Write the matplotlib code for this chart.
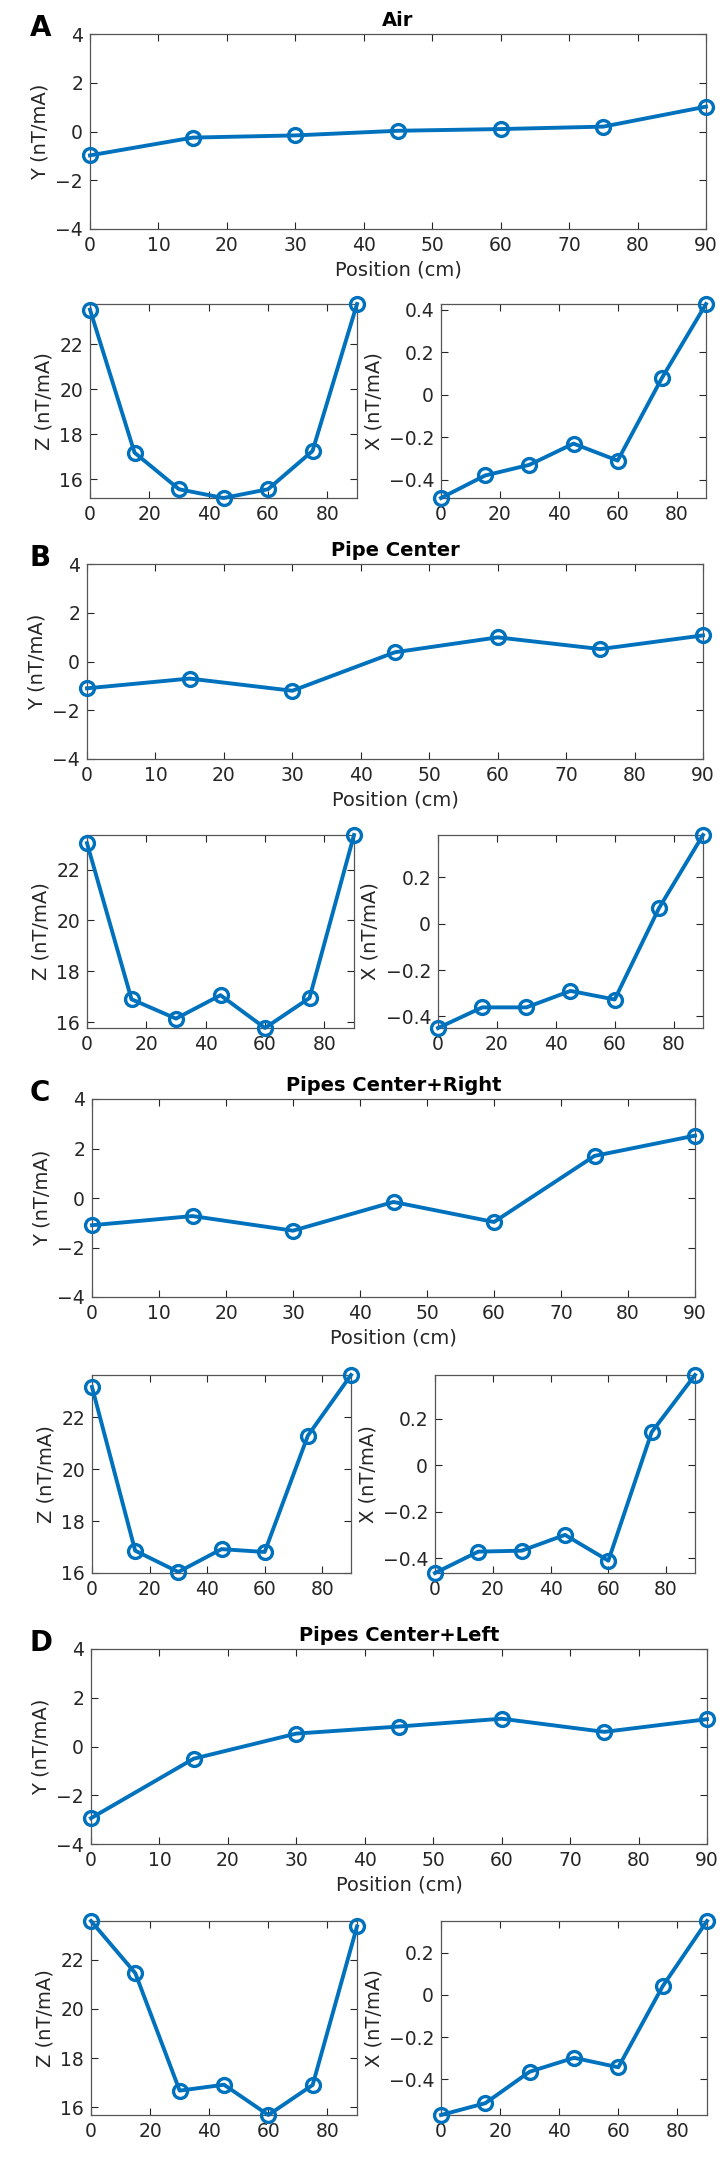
import matplotlib
matplotlib.use("Agg")
import matplotlib.pyplot as plt

plt.rcParams['font.family'] = ['DejaVu Sans']

# positions along the pipe (cm)
pos = [0, 15, 30, 45, 60, 75, 90]

titles = ["Air", "Pipe Center", "Pipes Center+Right", "Pipes Center+Left"]
letters = ["A", "B", "C", "D"]

# Y component (nT/mA)
y_air = [-0.98, -0.25, -0.16, 0.03, 0.10, 0.20, 1.02]
y_center = [-1.10, -0.70, -1.20, 0.38, 0.99, 0.51, 1.07]
y_right = [-1.10, -0.73, -1.32, -0.16, -0.97, 1.70, 2.52]
y_left = [-2.94, -0.50, 0.53, 0.82, 1.14, 0.60, 1.12]

# Z component (nT/mA)
z_air = [23.55, 17.19, 15.56, 15.17, 15.56, 17.26, 23.80]
z_center = [23.04, 16.90, 16.14, 17.06, 15.77, 16.95, 23.36]
z_right = [23.17, 16.86, 16.04, 16.92, 16.81, 21.29, 23.63]
z_left = [23.57, 21.45, 16.68, 16.92, 15.69, 16.91, 23.35]

# X component (nT/mA)
x_air = [-0.486, -0.380, -0.330, -0.230, -0.310, 0.078, 0.427]
x_center = [-0.450, -0.361, -0.361, -0.290, -0.327, 0.066, 0.383]
x_right = [-0.463, -0.371, -0.367, -0.299, -0.410, 0.143, 0.389]
x_left = [-0.569, -0.513, -0.364, -0.298, -0.343, 0.041, 0.350]

Y = [y_air, y_center, y_right, y_left]
Z = [z_air, z_center, z_right, z_left]
X = [x_air, x_center, x_right, x_left]

W, H = 723, 2160
BLUE = '#0072BD'
GREY = '#262626'

# pixel boxes (left, top, right, bottom)
top_boxes = [(90, 34, 706, 229), (87, 564, 703, 759), (92, 1099, 695, 1297), (91, 1649, 707, 1844)]
zl_boxes = [(90, 304, 357, 498), (87, 835, 354, 1028), (92, 1375, 351, 1573), (91, 1921, 357, 2115)]
xr_boxes = [(441, 304, 706, 498), (438, 835, 703, 1028), (435, 1375, 695, 1573), (441, 1921, 707, 2115)]


def rect(b):
    l, t, r, bt = b
    return [l / W, 1 - bt / H, (r - l) / W, (bt - t) / H]


def style(ax):
    ax.tick_params(direction='in', top=True, right=True, length=5, width=0.8,
                   labelsize=13.5, colors=GREY, pad=5)
    for s in ax.spines.values():
        s.set_color('#555555')
        s.set_linewidth(0.9)


def draw(ax, yv):
    ax.plot(pos, yv, '-o', color=BLUE, lw=2.8, ms=10, mew=2.4,
            mfc='none', clip_on=False, zorder=3)


fig = plt.figure(figsize=(W / 100, H / 100), dpi=100)

for i in range(4):
    ax = fig.add_axes(rect(top_boxes[i]))
    draw(ax, Y[i])
    ax.set_xlim(0, 90)
    ax.set_ylim(-4, 4)
    ax.set_xticks(range(0, 91, 10))
    ax.set_yticks([-4, -2, 0, 2, 4])
    ax.set_yticklabels(['\u22124', '\u22122', '0', '2', '4'])
    ax.set_xlabel('Position (cm)', fontsize=14, color=GREY, labelpad=4)
    ax.set_ylabel('Y (nT/mA)', fontsize=14, color=GREY, labelpad=4)
    ax.set_title(titles[i], fontsize=14, fontweight='bold', pad=6)
    style(ax)
    fig.text(30 / W, 1 - (top_boxes[i][1] - 6) / H, letters[i],
             fontsize=20, fontweight='bold', ha='left', va='center')

    az = fig.add_axes(rect(zl_boxes[i]))
    draw(az, Z[i])
    az.set_xlim(0, 90)
    az.set_ylim(min(Z[i]), max(Z[i]))
    az.set_xticks([0, 20, 40, 60, 80])
    az.set_yticks([16, 18, 20, 22])
    az.set_ylabel('Z (nT/mA)', fontsize=14, color=GREY, labelpad=4)
    style(az)

    ax2 = fig.add_axes(rect(xr_boxes[i]))
    draw(ax2, X[i])
    ax2.set_xlim(0, 90)
    ax2.set_ylim(min(X[i]), max(X[i]))
    ax2.set_xticks([0, 20, 40, 60, 80])
    tk = [t for t in [-0.4, -0.2, 0, 0.2, 0.4] if min(X[i]) <= t <= max(X[i])]
    ax2.set_yticks(tk)
    ax2.set_yticklabels([('\u2212' if t < 0 else '') + ('0' if t == 0 else f'{abs(t):.1f}') for t in tk])
    ax2.set_ylabel('X (nT/mA)', fontsize=14, color=GREY, labelpad=4)
    style(ax2)

fig.savefig('out.png', dpi=100)
